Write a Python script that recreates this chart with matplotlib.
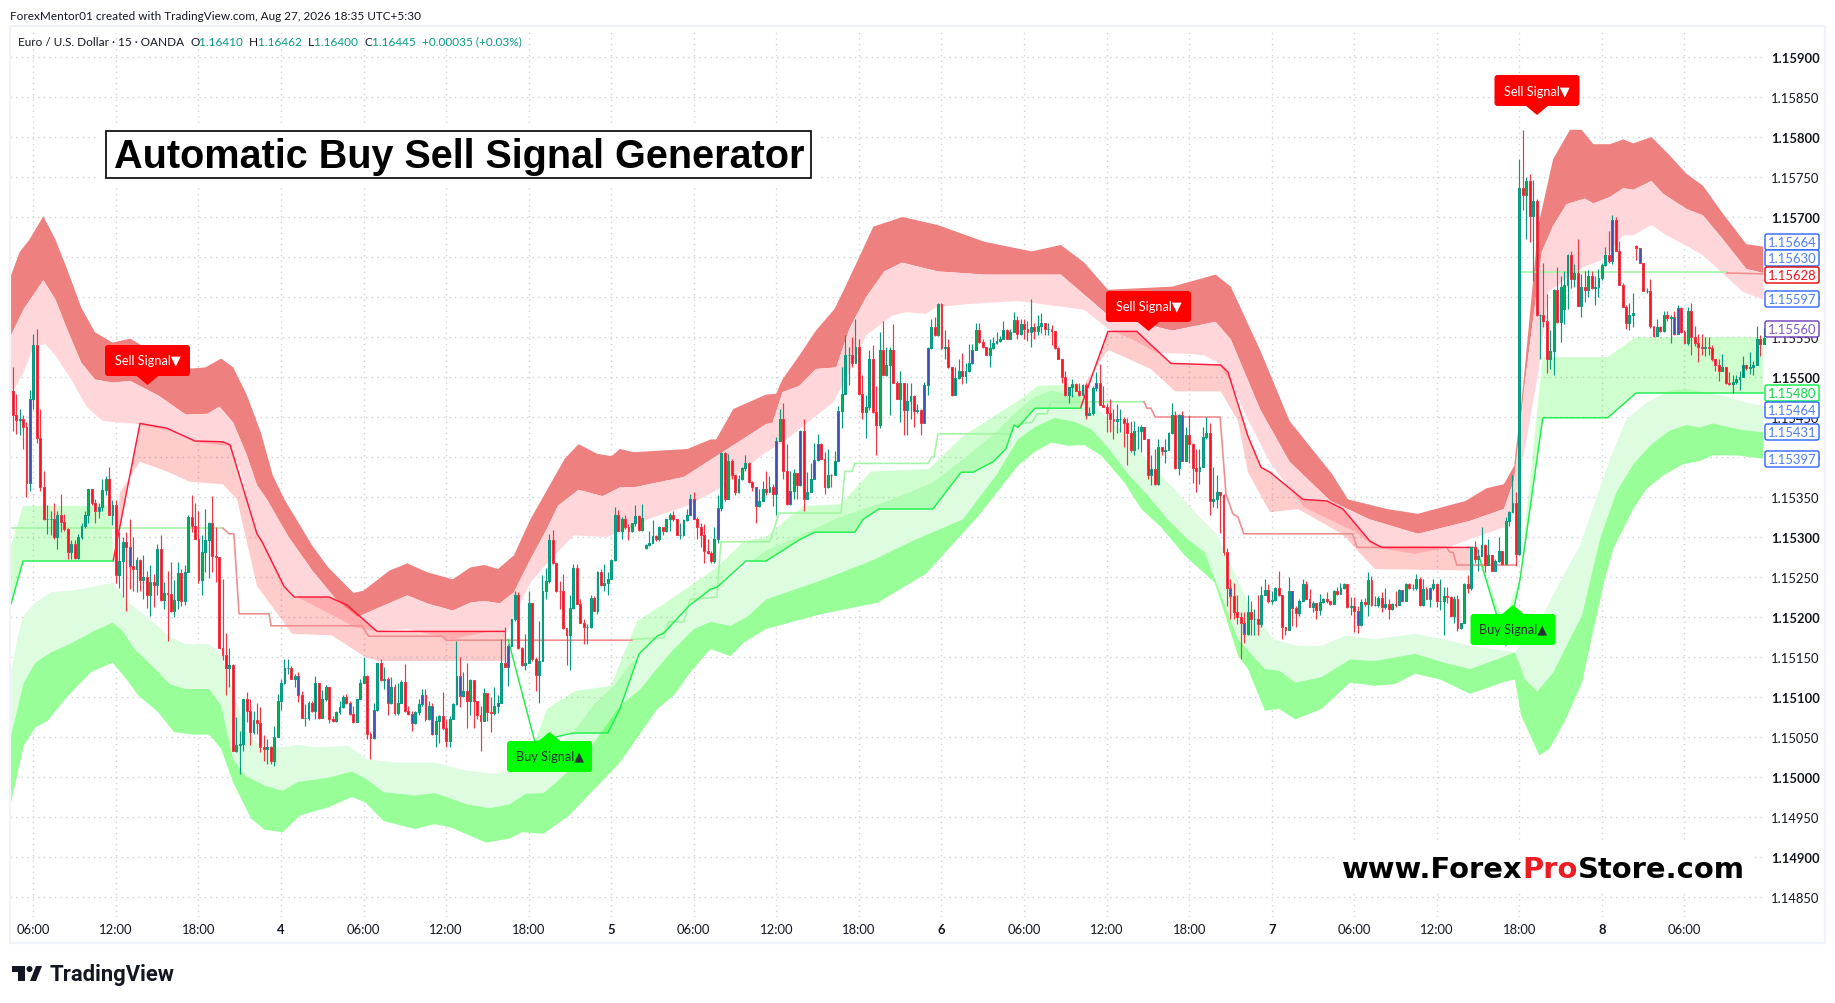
"""EUR/USD 15m chart with signal bands, TradingView look. Prices are in points above 1.15000."""
import numpy as np
import matplotlib
matplotlib.use("Agg")
import matplotlib.pyplot as plt
from matplotlib.patches import FancyBboxPatch, Polygon, Rectangle, Circle

W, H = 1835, 1004
UI_FONT = ["Lato", "DejaVu Sans"]

# candles (open = previous close unless listed in gap_opens)
close_pts = [
    483,452,446,447,438,367,473,540,424,363,322,323,323,300,328,319,310,281,291,274,300,314,328,360,343,333,337,359,373,327,340,253,270,294,288,264,260,271,246,250,227,244,240,285,221,230,229,207,221,255,220,256,325,314,298,246,281,296,317,276,275,161,152,136,140,33,40,41,97,82,56,71,68,38,
    35,37,20,50,95,117,136,136,122,126,102,74,74,92,82,117,74,97,113,73,70,81,88,100,92,79,69,97,117,126,54,49,84,143,121,123,92,112,80,93,119,83,79,67,81,91,103,72,89,54,70,76,61,45,72,91,126,101,108,95,121,95,77,70,105,81,80,89,93,143,138,164,198,
    227,161,140,142,217,147,127,145,233,245,296,267,233,232,186,178,211,261,216,193,187,187,224,208,256,240,243,247,271,328,307,322,312,307,317,326,309,324,290,293,301,297,313,307,322,328,322,302,302,321,328,347,322,313,302,283,280,270,297,336,405,347,395,377,356,372,386,392,369,362,339,345,360,
    356,363,354,420,448,383,341,357,380,365,433,347,356,372,396,416,397,363,378,377,395,457,479,527,527,518,538,479,456,462,523,456,440,534,503,515,534,493,473,492,459,470,476,457,459,442,490,536,563,552,591,536,537,513,477,499,508,501,507,517,534,559,544,537,527,536,542,545,548,559,548,556,571,554,
    566,560,556,563,557,564,568,560,560,558,
    536,522,500,477,487,491,483,477,490,452,455,486,493,465,463,455,447,445,447,447,442,430,409,432,432,437,422,377,385,366,412,407,409,430,452,386,452,395,427,416,386,382,387,425,430,345,347,356,352,281,236,226,206,200,192,179,206,197,198,191,227,234,220,
    221,236,227,187,184,232,211,205,220,241,223,213,218,209,219,223,220,216,233,229,236,241,212,214,208,190,219,216,246,215,215,224,212,216,210,216,215,234,220,241,236,236,247,215,235,223,236,241,220,220,226,225,201,222,186,192,241,236,287,272,276,290,265,277,258,270,283,266,320,
    331,342,279,736,727,745,701,720,577,577,570,522,532,609,569,613,615,652,623,630,589,613,609,626,611,613,624,640,652,645,696,658,615,588,568,578,580,661,643,608,608,564,551,563,557,578,574,575,554,586,556,543,583,550,543,538,536,537,536,522,515,508,512,492,491,494,497,500,515,511,512,515,547,541,549,
]
high_pts = [
    521,513,479,460,452,444,484,554,560,460,383,340,333,342,333,354,329,311,296,296,304,318,333,360,360,348,342,372,376,388,346,346,306,300,306,323,300,275,273,278,258,265,254,291,303,244,258,269,246,269,260,265,327,352,342,333,302,335,319,351,313,274,248,180,161,141,75,58,98,106,98,83,92,88,
    52,47,39,64,104,122,147,147,139,129,131,108,91,95,95,126,112,109,115,112,76,83,95,102,104,95,89,97,123,150,127,56,93,143,147,137,125,125,116,118,121,141,89,82,83,97,110,110,95,93,76,77,106,72,76,93,170,150,131,143,122,120,95,89,111,104,100,112,102,173,188,166,198,
    233,231,162,179,233,217,150,195,252,261,304,309,268,245,254,185,227,266,266,222,198,191,227,226,257,260,266,256,272,337,334,325,327,316,318,340,327,341,291,308,321,302,314,313,323,330,333,320,318,322,335,354,356,325,317,316,298,283,313,352,406,406,404,398,375,377,387,402,394,370,362,360,370,
    383,376,366,425,460,467,416,383,385,380,434,447,381,393,418,429,418,406,410,379,408,464,512,552,537,550,572,548,502,477,534,540,489,556,570,537,537,566,495,508,492,492,492,477,466,460,494,537,572,575,593,593,559,548,513,513,522,530,518,541,541,568,568,548,535,548,550,556,551,570,560,560,581,576,
    572,572,570,597,568,578,580,566,568,565,
    552,538,522,508,487,497,492,492,491,492,462,489,506,516,489,468,472,460,466,460,450,449,445,445,439,440,438,422,403,410,422,413,423,431,468,458,454,457,437,452,418,410,410,437,450,443,387,377,356,354,286,247,243,227,206,206,227,220,210,227,239,247,241,
    233,237,258,227,187,250,232,214,222,247,245,235,220,217,229,224,231,220,234,237,242,242,240,225,225,214,222,224,256,251,226,226,231,236,223,218,233,235,234,243,243,241,254,250,247,237,238,247,241,247,238,238,226,226,227,193,243,252,287,295,285,312,291,297,276,272,300,283,325,
    333,377,356,773,809,750,754,746,723,579,643,604,559,610,638,626,632,654,658,641,673,629,632,634,633,626,635,643,662,683,702,700,670,618,590,593,605,665,659,643,611,622,562,572,564,582,583,577,583,590,587,559,588,592,564,554,554,550,550,540,522,522,529,513,506,502,502,508,526,515,531,520,564,552,561,
]
low_pts = [
    469,433,429,427,410,350,358,460,417,358,321,304,302,298,285,306,308,272,272,272,272,297,311,317,340,317,324,333,352,327,315,242,236,225,207,235,233,231,233,223,211,201,213,227,220,210,170,206,200,210,214,215,260,306,297,242,228,256,249,256,244,161,146,102,113,32,31,4,33,69,40,54,54,31,
    20,16,16,14,52,84,116,129,122,112,94,74,64,71,81,73,72,97,95,67,69,69,79,86,91,77,67,69,97,118,47,22,48,83,120,110,77,91,77,77,93,81,77,58,66,78,89,70,71,52,38,42,59,37,38,72,90,87,100,61,77,61,72,32,70,70,56,77,80,92,138,114,164,
    195,160,139,134,142,145,108,93,150,222,243,266,231,210,185,140,134,210,216,192,166,166,186,208,204,239,232,228,249,270,307,297,310,296,306,314,307,307,285,289,292,295,295,302,306,308,320,302,298,301,320,327,322,297,288,267,279,268,268,293,333,345,347,373,352,355,371,383,368,357,318,338,345,
    352,356,339,327,420,372,340,340,347,347,364,333,347,356,372,395,397,354,361,362,377,395,436,479,490,512,518,477,447,424,459,455,402,436,502,501,452,492,472,444,428,428,447,437,455,428,442,477,535,551,551,535,522,511,476,479,497,491,493,506,516,548,543,536,527,513,535,541,544,548,548,548,558,548,
    553,548,545,537,548,552,555,552,553,540,
    535,522,493,476,468,475,482,476,476,447,452,452,483,465,462,431,431,422,430,431,413,390,406,402,410,406,422,372,365,365,365,403,392,410,429,385,377,395,395,393,367,356,366,388,422,327,337,336,305,277,214,197,198,191,147,167,178,178,177,177,188,227,218,
    216,220,226,172,177,185,189,187,201,220,222,212,206,197,202,218,217,215,216,227,229,235,211,202,181,180,189,214,201,214,214,213,206,210,197,209,213,215,220,220,235,234,234,214,214,222,213,234,213,209,177,218,200,192,182,185,192,230,234,268,257,276,256,265,257,258,269,265,266,
    314,331,264,277,709,672,669,620,576,522,563,505,510,503,568,544,566,585,611,612,589,575,594,600,610,590,600,621,639,643,641,657,615,587,560,559,563,646,642,607,605,561,550,551,556,556,570,543,552,554,555,542,540,527,539,519,527,526,527,520,508,495,509,491,490,480,491,484,500,509,504,502,515,526,542,
]
gap_opens = {185: 286, 452: 585, 473: 664}
blue_bars = [6, 35, 55, 84, 89, 99, 106, 110, 112, 117, 120, 121, 123, 126, 131, 139, 142, 145,
             198, 199, 206, 208, 217, 223, 227, 230, 234, 235, 240, 241, 266, 267, 275, 280, 289,
             316, 332, 333, 341, 353, 355, 357, 359, 373, 392, 396, 400, 405, 413, 419,
             466, 468, 474, 484, 485, 489, 504]

# band edges: upper red bands (u3 > u2 > u1), lower green bands (l1 > l2 > l3)
u3_x = [0,2.5,5.4,9.4,12.9,16.3,20.4,24.4,29.5,34.7,42.8,50.8,56.5,61.1,64.6,68.6,72.6,76.1,79.5,87.6,92.2,99.6,102.5,110,115.2,121,128.4,133.6,137.6,141.6,146.2,151,156,161,165,170.4,174.6,177,181,196.6,203.4,205,210,219.5,222.4,224.3,229.2,234,239.4,242.8,246.6,250.7,259.2,269.4,283,296.7,305.2,312,318.9,337.6,350.2,354.6,363.2,371.7,384,388.7,400,409,422.8,429,434,437,439.6,444,448.3,453.2,456.6,460,464.8,468.7,471.6,476.9,482.2,487.1,491.9,497.7,504.5,509.4]
u3_y = [627,656,672,701,672,635,587,556,543,548,527,510,512,523,512,477,431,377,347,289,262,230,233,258,267,256,247,262,265,260,277,322,360,398,416,404,401,410,406,410,422,422,460,478,479,497,527,558,585,615,650,688,700,690,669,657,665,643,609,613,628,613,533,445,379,347,335,329,345,361,366,389,489,689,772,809,809,791,791,797,792,800,777,754,739,704,666,663]
u2_x = [0,3.7,9.4,12.9,16.3,20.4,24.4,29.5,34.7,42.8,50.8,57.1,60.6,64.6,68.6,71.5,74.4,80.7,87.6,94.5,100.8,106,115.2,121,128.4,133.6,137.6,142.1,146.2,151,156,159,165,172,177,181,195.6,206.8,219.5,221.4,224.3,229.2,234,239.9,243.7,248.6,253.9,259,269.4,283,296.7,305.2,319,337.6,350.2,354.6,363.2,371.7,383.6,395,409,424,434,437,440,445,448.3,452.2,457.5,460,464.8,468.7,471.6,476.9,480.3,487.1,491.9,497.7,504.5,509.4]
u2_y = [552,585,621,597,560,518,497,493,495,477,453,454,463,443,402,365,347,300,258,222,200,210,227,217,208,218,220,217,231,272,312,339,359,351,362,362,375,406,441,443,481,489,510,512,560,600,632,643,632,628,628,628,577,558,569,547,459,394,345,322,304,320,335,372,489,656,689,716,723,717,725,736,734,745,729,710,702,672,635,630]
u1_x = [0,3.7,6.6,10,12.9,17.5,22.1,26.7,37,46.2,54.3,63.4,66.9,68.6,71.5,79,82.4,92.2,100.2,106.5,115.2,128.4,137.6,144.5,146.2,151,156,163.6,173.3,185,196.6,205.8,219.5,224.3,229.2,238.9,242.8,248.6,256.3,260.2,266,268.9,277.6,292.8,312,319,326,333,342.1,347,350.8,354.7,359.6,366,376,391,396.6,408,417.7,424,434,437,444,446.9,453.2,457,462.9,468.7,471.6,476.9,481.3,487.1,491.9,497.7,503.6,509.4]
u1_y = [477,506,539,541,527,497,462,445,441,433,418,414,381,347,304,239,227,205,187,182,185,172,181,183,201,243,268,302,300,322,339,360,406,418,435,468,497,552,577,581,579,587,591,595,584,560,547,530,529,527,518,493,447,393,337,306,287,279,287,297,312,335,506,606,627,637,647,677,677,690,677,664,652,629,606,597]
l1_x = [0,2,3.7,7.1,11.7,17.5,23.2,29.5,34.1,41,46.2,50.8,57.7,61.1,64.6,68,72.6,79,83.5,88.7,97.9,103.7,111.7,123.2,132.4,140.4,146.2,153,163.4,169.5,175.3,179.6,186.9,194.7,202.4,208.2,216,219.5,226,241,255,268,276.7,285.4,292.7,297.5,302.4,311.6,316.9,324.7,331.5,338.2,345,350.8,354.7,359.6,366.9,374,381,388.2,396.4,408.2,416.5,424.2,437.2,439,442,446,450.7,456.1,464.8,469.6,475.5,482.2,487.1,491.9,497.7,504.5,509.4]
l1_y = [131,177,202,218,231,233,237,243,218,195,175,166,166,152,106,60,37,37,40,37,39,22,18,18,8,4,10,25,55,91,114,139,172,202,235,247,272,283,295,325,345,368,397,427,458,475,483,475,456,425,389,360,327,302,264,218,172,164,164,177,172,179,172,164,156,165,180,208,247,289,397,447,468,483,485,481,477,468,464]
l2_x = [0,3.7,7.1,11.7,17,24.4,29.5,32.4,35.9,41,46.2,50.8,57.7,61.1,64.6,68,73.8,79,83.5,92.2,99.1,103.1,108.3,117.4,123.2,132.4,139.3,145,149.6,154.8,160,166.9,177,183,186.9,192.7,198.5,203.4,209.2,214,219.5,235,250,262,276.7,286.4,292.7,297.5,303.4,309.2,314,318.9,324.7,330.5,336.3,342.1,347,351.8,356.7,364.5,368.7,373.4,381,389.3,396.4,408.2,416.5,424.2,431.9,437.2,440.2,443.7,448.4,450.8,456.7,461.9,466.7,471.6,476.9,482.2,487.1,491,494.8,499.7,504.5,509.4]
l2_y = [52,118,143,156,166,183,193,183,160,139,116,110,110,89,22,2,-11,-17,-6,-1,7,-2,-19,-23,-20,-34,-39,-34,-21,-20,-1,27,89,110,131,160,185,194,189,200,222,245,270,295,322,377,422,437,449,444,435,412,379,352,322,297,281,227,172,135,133,118,125,147,145,154,143,135,147,156,122,107,131,152,202,297,356,391,416,433,440,437,442,437,433,431]
l3_x = [0,3.7,7.1,10.6,16.3,23.2,29.5,33.6,37,42.8,47.4,53.1,57.7,61.1,64.6,69.8,73.8,79,84.1,92.2,99.1,103.1,108.3,117.4,123.2,127.8,138.1,145,148.5,154.8,162.3,169.2,177,187.9,192.7,197.5,203.4,209.2,213,219.5,235,252,266,281.4,292.7,297.5,302.4,307.2,312,316.9,323.7,328.6,334.4,341.2,349.9,351.8,356.7,359.6,364.5,368.7,373.4,381,389.3,396.4,402.3,408.2,415.4,424.2,434.2,437.2,439,444.3,447.2,452,456.7,463.3,465.8,471.6,475.5,480.3,486.1,491,494.8,501.6,509.4]
l3_y = [-32,39,62,70,100,131,143,122,102,81,56,53,53,35,-7,-52,-66,-69,-48,-38,-25,-32,-55,-65,-59,-63,-82,-77,-69,-71,-48,-17,18,85,102,131,160,151,168,185,203,218,254,327,389,406,418,414,415,402,368,335,312,277,243,218,152,135,83,85,72,85,118,114,116,129,122,104,119,122,77,27,35,72,118,247,285,335,360,377,391,395,402,402,398]

# main stop lines, three green and two red legs
res_a_x = [29.7,37.5,45.3,53.5,61.6,63.7,71.5,73,79.4,82.3,92.4,97.7,106.4,143.6]
res_a_y = [270,442,436,420,419,415,304,294,238,225,225,215,182,182]
res_b_x = [311,318.9,327.3,329.7,337.2,351.7,353.8,359.6,363.4,366,375.6,382.6,387.2,395,398.5,425]
res_b_y = [462,557,557,547,517,515,506,426,387,381,347,345,335,295,287,287]
sup_a_x = [0,3.5,29.7]
sup_a_y = [216,270,270]
sup_b_x = [144.5,152.3,163.4,173.5,177,182.6,187.8,189.8,197.1,203.5,205.2,213.7,219.5,229.4,233.7,245.3,247.7,252.3,268,276.2,279.7,285.5,289.2,291.6,292.7,297.7,311]
sup_b_y = [172,44,55,55,85,154,176,180,214,235,237,270,270,297,306,306,322,335,335,381,381,394,410,440,437,461,461]
sup_c_x = [426,434.6,438.7,445.3,464.2,472.4,509.3]
sup_c_y = [287,164,247,449,449,480,480]

# pale stepped lines
pale_green_a_x = [0,61.6]
pale_green_a_y = [311,311]
pale_red_a_x = [61.6,63.4,64.8,66.3,75,75.6,102,104,125.3,126.5,180.5]
pale_red_a_y = [311,304,304,204,204,189,189,176,176,171,171]
pale_green_b_x = [180.5,189.8,191.3,195.6,197.4,205.2,206.4,220.6,223.3,241.3,242.4,244.5,245.3,266.6,267.7,268.3,269.5,290.7,291.6,297,298.3,301.2,302.3,329.4]
pale_green_b_y = [172,174,194,194,222,225,294,294,330,330,382,382,392,392,400,400,429,429,440,444,454,454,469,469]
pale_red_b_x = [329.4,330.2,331.4,332.6,351.5,353.2,355.2,356.7,358.4,390,391.3,417.4,418.3,419.2,420.3,437.5]
pale_red_b_y = [469,461,461,450,450,354,329,325,304,304,287,287,281,281,265,265]
pale_green_c_x = [438.7,498.8]
pale_green_c_y = [631,631]
pale_red_c_x = [498.8,509.3]
pale_red_c_y = [630,629]

# upper edges of the green stop fills, lower edges of the red stop fills
fill_sup_a_x = [0,3.5,29.2,29.7]
fill_sup_a_y = [289,339,339,270]
fill_sup_b_x = [152.3,155.8,163.7,174.4,182,189,205.2,213.1,219.5,226.2,230.5,241.3,250,266.9,276.7,292.7,298.5,305.8,311]
fill_sup_b_y = [44,85,107,114,195,214,262,295,300,325,339,341,382,385,426,470,489,490,489]
fill_sup_c_x = [438.7,445.3,464.2,472.4,509.3]
fill_sup_c_y = [251,525,525,550,550]
fill_sup_d_x = [426,429,433,434.6,437,438.7]
fill_sup_d_y = [287,250,205,200,230,247]
fill_res_a_x = [29.7,31.7,37.5,45.3,52,61.6,65.7,71.5,81.7,93.3,102.6,106.7,143.6]
fill_res_a_y = [270,356,394,382,369,366,347,239,179,177,151,145,145]
fill_res_b_x = [311,312.5,318.9,331.4,338.4,351.7,356.7,359.6,366,374.1,386.9,396.5,425]
fill_res_b_y = [462,494,534,510,482,482,445,381,331,335,304,260,258]

# axis text
price_ticks = list(range(-150, 901, 50))
time_labels = ["06:00","12:00","18:00","4","06:00","12:00","18:00","5","06:00","12:00","18:00","6",
               "06:00","12:00","18:00","7","06:00","12:00","18:00","8","06:00"]
tag_values = ["1.15664","1.15630","1.15628","1.15597","1.15560","1.15480","1.15464","1.15431","1.15397"]
tag_y = [243, 259, 276, 300, 330, 394, 411, 433, 460]
tag_edges = ["#2962ff","#2962ff","#e00000","#2962ff","#673ab7","#00f040","#2962ff","#2962ff","#2962ff"]
tag_texts = ["#4f7ff5","#4f7ff5","#f01020","#4f7ff5","#7e57c2","#10d848","#4f7ff5","#4f7ff5","#4f7ff5"]
sell_x = [147.5, 1148.5, 1537]
sell_top = [346, 292, 76]
buy_x = [549.5, 1513]
buy_top = [742, 615]

C_DARK_RED, C_PINK = "#ee8080", "#ffd7db"
C_PALE_GREEN, C_GREEN = "#ddfce0", "#98ff98"
C_UP, C_UP_FACE = "#089981", "#00b356"
C_DOWN, C_DOWN_FACE = "#f23645", "#ff1024"
C_BLUE = "#3f51b5"

fig = plt.figure(figsize=(W / 100, H / 100), dpi=100, facecolor="white")
ax = fig.add_axes([10 / W, 1 - 918 / H, 1756 / W, 888 / H])
ax.set_xlim(-0.29, 510.2)
ax.set_ylim(-175, 935)
for s in ax.spines.values():
    s.set_visible(False)


def band(tx, ty, bx, by, color, **kw):
    ax.fill(np.r_[tx, bx[::-1]], np.r_[ty, by[::-1]], color=color, lw=0, **kw)


# grid
grid_style = dict(color="#cfd2d6", lw=1.0, ls=(0, (1, 3)), zorder=0)
day_bars = [6.5 + 24 * k for k in range(len(time_labels))]
for b in day_bars:
    ax.axvline(b, **grid_style)
for p in price_ticks:
    ax.axhline(p, **grid_style)

# bands
band(u3_x, u3_y, u2_x, u2_y, C_DARK_RED, zorder=1)
band(u2_x, u2_y, u1_x, u1_y, C_PINK, zorder=1)
band(l1_x, l1_y, l2_x, l2_y, C_PALE_GREEN, zorder=1)
band(l2_x, l2_y, l3_x, l3_y, C_GREEN, zorder=1)

# stop fills
red_fill = dict(alpha=0.2, zorder=2)
green_fill = dict(alpha=0.19, zorder=2)
band(res_a_x, res_a_y, fill_res_a_x, fill_res_a_y, "#ff0000", **red_fill)
band(res_b_x, res_b_y, fill_res_b_x, fill_res_b_y, "#ff0000", **red_fill)
band(fill_sup_a_x, fill_sup_a_y, sup_a_x, sup_a_y, "#00ff00", **green_fill)
band(fill_sup_b_x, fill_sup_b_y, sup_b_x[1:], sup_b_y[1:], "#00ff00", **green_fill)
band(fill_sup_c_x, fill_sup_c_y, sup_c_x[2:], sup_c_y[2:], "#00ff00", **green_fill)
band(fill_sup_d_x, fill_sup_d_y, sup_c_x[:3], sup_c_y[:3], "#00ff00", **green_fill)

# lines
for x, y in [(pale_green_a_x, pale_green_a_y), (pale_green_b_x, pale_green_b_y), (pale_green_c_x, pale_green_c_y)]:
    ax.plot(x, y, color="#a6f5a6", lw=1.2, zorder=3)
for x, y in [(pale_red_a_x, pale_red_a_y), (pale_red_b_x, pale_red_b_y), (pale_red_c_x, pale_red_c_y)]:
    ax.plot(x, y, color="#ee8f92", lw=1.2, zorder=3)
for x, y in [(res_a_x, res_a_y), (res_b_x, res_b_y)]:
    ax.plot(x, y, color="#ff1a3c", lw=1.05, zorder=3)
for x, y in [(sup_a_x, sup_a_y), (sup_b_x, sup_b_y), (sup_c_x, sup_c_y)]:
    ax.plot(x, y, color="#1fee50", lw=1.05, zorder=3)

# candles, half a bar left of the indicator samples
closes = np.array(close_pts, float)
highs = np.array(high_pts, float)
lows = np.array(low_pts, float)
opens = np.r_[closes[0], closes[:-1]]
for i, v in gap_opens.items():
    opens[i] = v
bars = np.arange(len(closes)) - 0.5
up = closes >= opens
ax.vlines(bars, lows, highs, colors=[C_UP if u else C_DOWN for u in up], lw=0.85, zorder=4)
faces = [C_UP_FACE if u else C_DOWN_FACE for u in up]
for i in blue_bars:
    if i < len(faces):
        faces[i] = C_BLUE
ax.bar(bars, np.abs(closes - opens), bottom=np.minimum(opens, closes), width=0.55, color=faces,
       edgecolor=[C_UP if u else C_DOWN for u in up], lw=0.75, zorder=5)

# axes text
ax.yaxis.tick_right()
ax.set_yticks(price_ticks)
ax.set_yticklabels([f"{1.15 + p / 1e5:.5f}" for p in price_ticks], family=UI_FONT, fontsize=9.4, color="#131722")
for p, t in zip(price_ticks, ax.get_yticklabels()):
    if p % 100 == 0:
        t.set_fontweight("bold")
ax.set_xticks(day_bars)
ax.set_xticklabels(time_labels, family=UI_FONT, fontsize=9.4, color="#131722")
for t in ax.get_xticklabels():
    if len(t.get_text()) == 1:
        t.set_fontweight("bold")
ax.tick_params(axis="y", length=0, pad=3.5)
ax.tick_params(axis="x", length=0, pad=4.5)

# overlay in pixel coordinates for the page furniture
ov = fig.add_axes([0, 0, 1, 1], facecolor="none")
ov.set_xlim(0, W)
ov.set_ylim(H, 0)
ov.axis("off")
ov.add_patch(Rectangle((9.5, 26.5), 1815, 917, fc="none", ec="#f0f3fa", lw=1.6, zorder=1))


def runs(x, y, parts, **kw):
    rend = fig.canvas.get_renderer()
    for s, c in parts:
        t = ov.text(x, y, s, color=c, va="center", ha="left", **kw)
        x = t.get_window_extent(rend).x1


runs(10, 16, [("ForexMentor01 created with TradingView.com, Aug 27, 2026 18:35 UTC+5:30", "#131722")],
     family=UI_FONT, fontsize=8.5)
dark, teal = "#131722", "#089981"
runs(18, 42, [("Euro / U.S. Dollar · 15 · OANDA  ", dark), ("O", dark), ("1.16410  ", teal), ("H", dark),
              ("1.16462  ", teal), ("L", dark), ("1.16400  ", teal), ("C", dark), ("1.16445  ", teal),
              ("+0.00035 (+0.03%)", teal)], family=UI_FONT, fontsize=8.5)

# title box
ov.add_patch(Rectangle((97, 124), 724, 63, fc="white", ec="none", zorder=2))
ov.add_patch(Rectangle((105.5, 132), 705, 47, fc="white", ec="black", lw=1.2, zorder=3))
ov.text(459, 157.5, "Automatic Buy Sell Signal Generator", family="Liberation Sans", weight="bold",
        fontsize=28.5, ha="center", va="center", color="black", zorder=4)

# website
ov.add_patch(Rectangle((1335, 845), 420, 48, fc="white", ec="none", zorder=2))
runs(1342, 870, [("www.Forex", "black"), ("Pro", "#ed1c24"), ("Store.com", "black")],
     family="DejaVu Sans", weight="bold", fontsize=20.9, zorder=4)


def signal(cx, top, label, color, text_color, tip_up):
    w, h = 85, 31
    ov.add_patch(FancyBboxPatch((cx - w / 2 + 3, top + 3), w - 6, h - 6, boxstyle="round,pad=3,rounding_size=3",
                                fc=color, ec="none", zorder=6))
    if tip_up:
        tip = [(cx - 12, top + 1), (cx, top - 9), (cx + 12, top + 1)]
    else:
        tip = [(cx - 12, top + h - 1), (cx, top + h + 9), (cx + 12, top + h - 1)]
    ov.add_patch(Polygon(tip, fc=color, ec="none", zorder=6))
    ov.text(cx, top + h / 2, label, color=text_color, family=UI_FONT, fontsize=9.2, ha="center", va="center", zorder=7)


for cx, top in zip(sell_x, sell_top):
    signal(cx, top, "Sell Signal▼", "#ff0000", "white", False)
for cx, top in zip(buy_x, buy_top):
    signal(cx, top, "Buy Signal▲", "#00ff00", "#2a2e39", True)

# price tags on the right
for v, y, ec, tc in zip(tag_values, tag_y, tag_edges, tag_texts):
    ov.add_patch(FancyBboxPatch((1766, y - 7), 52, 14, boxstyle="round,pad=1,rounding_size=2",
                                fc="white", ec=ec, lw=1.0, zorder=6))
    ov.text(1792, y, v, color=tc, family=UI_FONT, fontsize=9.4, ha="center", va="center", zorder=7)

# logo
ov.add_patch(Rectangle((12, 967), 13, 6, fc="#131722", ec="none"))
ov.add_patch(Rectangle((18, 967), 7, 15, fc="#131722", ec="none"))
ov.add_patch(Circle((29.5, 970), 3, fc="#131722", ec="none"))
ov.add_patch(Polygon([(30, 982), (36, 982), (42, 967), (36, 967)], fc="#131722", ec="none"))
ov.text(49, 975, "TradingView", family="Roboto", weight="bold", fontsize=15.8, color="#131722", ha="left", va="center")

fig.savefig("out.png", dpi=100)
